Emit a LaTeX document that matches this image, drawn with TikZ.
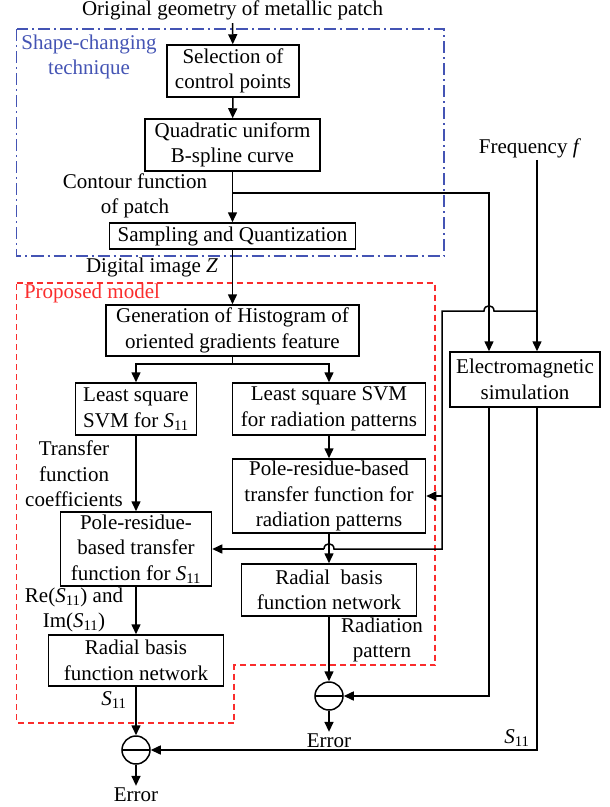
\documentclass[tikz,border=0pt]{standalone}
\usepackage{fontspec}
\setmainfont{Liberation Serif}
\usepackage{xcolor}
\usetikzlibrary{arrows.meta, positioning, calc}
\definecolor{shapeblue}{RGB}{68,84,180}
\definecolor{modelred}{RGB}{250,45,45}
\newcommand{\Seleven}{\textit{S}\textsubscript{11}}

\begin{document}
\begin{tikzpicture}[x=1pt,y=-1pt,
  font=\fontsize{21}{25.5}\selectfont,
  block/.style={draw, line width=1.5pt, align=center, inner sep=1pt},
  lbl/.style={align=center, inner sep=2pt},
  arr/.style={line width=1.5pt, -{Triangle[length=10pt,width=9pt]}},
  wire/.style={line width=1.5pt},
  minus/.style={draw, line width=1.5pt, circle, minimum size=28pt, inner sep=0pt,
    path picture={\draw[line width=1.5pt] (path picture bounding box.west) -- (path picture bounding box.east);}}]
\useasboundingbox (0,0) rectangle (610,807);

% dashed frames
\draw[shapeblue, line width=1.4pt, dash pattern=on 12pt off 4pt on 2pt off 4pt] (16.5,29) rectangle (444,256);
\draw[modelred, line width=1.4pt, dash pattern=on 6pt off 4pt] (16.5,283) -- (435,283) -- (435,665) -- (234,665) -- (234,723) -- (16.5,723) -- cycle;

% shape-changing technique
\node (title) at (232.5,10) {Original geometry of metallic patch};
\node[lbl, text=shapeblue] (shapelbl) at (89,57) {Shape-changing\\technique};
\node[block, minimum width=132, minimum height=52] (sel) at (233,71) {Selection of\\control points};
\node[block, minimum width=175, minimum height=52] (quad) at (232.5,145) {Quadratic uniform\\B-spline curve};
\node[block, minimum width=246, minimum height=26] (samp) at (232.5,236) {Sampling and Quantization};
\node[lbl] (contour) at (135,196) {Contour function\\of patch};
\node[lbl] (digital) at (152,267) {Digital image \textit{Z}};

% proposed model
\node[lbl, text=modelred] (modellbl) at (92,293) {Proposed model};
\node[block, minimum width=253, minimum height=51] (hog) at (232.5,330.5) {Generation of Histogram of\\oriented gradients feature};
\node[block, minimum width=121, minimum height=52] (lss) at (136,409) {Least square\\SVM for \Seleven};
\node[block, minimum width=193, minimum height=52] (lsr) at (329,409) {Least square SVM\\for radiation patterns};
\node[lbl] (coef) at (74,474) {Transfer\\function\\coefficients};
\node[block, minimum width=193, minimum height=74] (prr) at (329,496) {Pole-residue-based\\transfer function for\\radiation patterns};
\node[block, minimum width=151, minimum height=74] (prs) at (136,549) {Pole-residue-\\based transfer\\function for \Seleven};
\node[block, minimum width=175, minimum height=52] (rbfr) at (329,590) {Radial\ \ basis\\function network};
\node[lbl] (reim) at (74,610) {Re(\Seleven) and\\Im(\Seleven)};
\node[block, minimum width=175, minimum height=51] (rbfl) at (136,660.5) {Radial basis\\function network};
\node[lbl] (radpat) at (382,640) {Radiation\\pattern};
\node[lbl] (sl) at (114,700) {\Seleven};

% simulation side
\node[lbl] (freq) at (530,148) {Frequency \textit{f}};
\node[block, minimum width=150, minimum height=55] (em) at (525,379.5) {Electromagnetic\\simulation};
\node[lbl] (sr) at (517,738) {\Seleven};

% comparison
\node[minus] (cr) at (329,696) {};
\node[minus] (cl) at (136,750) {};
\node[lbl] (errr) at (329,741) {Error};
\node[lbl] (errl) at (136,795) {Error};

\coordinate (cbr) at (232.5,193);
\coordinate (emin1) at ([xshift=-36pt]em.north);
\coordinate (emin2) at ([xshift=12pt]em.north);
\coordinate (hsplit) at ([yshift=-7pt]hog.south);
\coordinate (fsplit) at (emin2 |- 0,311);
\coordinate (hop1) at (emin1 |- 0,311);
\coordinate (fleft) at (442,311);
\coordinate (hop2) at (prr.south |- prs.east);

% main chain
\draw[arr] (title) -- (sel);
\draw[arr] (sel) -- (quad);
\draw[arr] (quad) -- (samp);
\draw[arr] (samp) -- (hog);
\draw[wire] (hog.south) -- (hsplit);
\draw[arr] (hsplit) -| (lss);
\draw[arr] (hsplit) -| (lsr);
\draw[arr] (lss) -- (prs);
\draw[arr] (lsr) -- (prr);
\draw[arr] (prr) -- (rbfr);
\draw[arr] (prs) -- (rbfl);
\draw[arr] (rbfr) -- (cr);
\draw[arr] (rbfl) -- (cl);
\draw[arr] (cr) -- (errr);
\draw[arr] (cl) -- (errl);

% inputs of the simulation
\draw[arr] (cbr) -| (emin1);
\draw[arr] (freq.south -| emin2) -- (emin2);

% frequency into the transfer functions
\draw[wire] (fsplit) -- ([xshift=5pt]hop1) .. controls +(0,-7) and +(0,-7) .. ([xshift=-5pt]hop1)
  -- (fleft) -- (fleft |- prs.east) -- ([xshift=5pt]hop2) .. controls +(0,-7) and +(0,-7) .. ([xshift=-5pt]hop2);
\draw[arr] ([xshift=-5pt]hop2) -- (prs.east);
\draw[arr] (fleft |- prr.east) -- (prr.east);

% simulated outputs
\draw[arr] (em.south -| emin1) |- (cr);
\draw[arr] (em.south -| emin2) |- (cl);
\end{tikzpicture}
\end{document}
